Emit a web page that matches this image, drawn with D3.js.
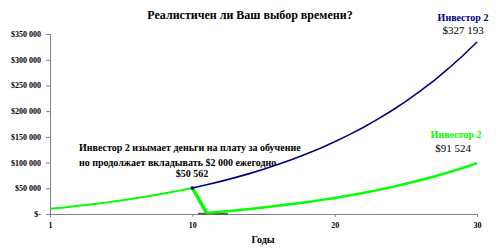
<!DOCTYPE html>
<html>
<head>
<meta charset="utf-8">
<script src="https://cdn.jsdelivr.net/npm/d3@7"></script>
<style>
  html, body { margin: 0; padding: 0; background: #fff; }
  svg { display: block; }
  svg text { font-family: "Liberation Serif", "Times New Roman", "DejaVu Serif", serif; }
</style>
</head>
<body>
<svg id="chart" width="500" height="248"></svg>
<script>
// ---- data ----
const yearsBefore = [0, 1, 2, 3, 4, 5, 6, 7, 8, 9, 10];
const investor2Before = [10000, 12800, 15824, 19090, 22617, 26427, 30541, 34984, 39783, 44965, 50562];

const yearsContinue = [10, 11, 12, 13, 14, 15, 16, 17, 18, 19, 20, 21, 22, 23, 24, 25, 26, 27, 28, 29, 30];
const investor2Continue = [50562, 56767, 63468, 70705, 78521, 86963, 96080, 105926, 116560, 128045, 140449,
  153845, 168313, 183938, 200813, 219038, 238721, 259979, 282937, 307732, 334511];

const yearsDrop = [10, 11];
const investor2Drop = [50562, 2160];

const yearsWithdraw = [11, 12, 13, 14, 15, 16, 17, 18, 19, 20, 21, 22, 23, 24, 25, 26, 27, 28, 29, 30];
const investor2Withdraw = [2160, 4493, 7012, 9733, 12672, 15846, 19273, 22975, 26973, 31291,
  35954, 40990, 46429, 52303, 58647, 65499, 72899, 80891, 89522, 98844];

const yearsBase = [10.4, 12.5];
const baseValues = [600, 600];

const xTickValues = [0, 10, 20, 30];
const xTickLabels = ["1", "10", "20", "30"];
const yTickValues = [0, 50000, 100000, 150000, 200000, 250000, 300000, 350000];

const title = "Реалистичен ли Ваш выбор времени?";
const xTitle = "Годы";
const annotationLines = ["Инвестор 2 изымает деньги на плату за обучение", "но продолжает вкладывать $2 000 ежегодно"];
const annotationValue = "$50 562";
const labelTop = ["Инвестор 2", "$327 193"];
const labelBottom = ["Инвестор 2", "$91 524"];

// ---- chart ----
const svg = d3.select("#chart");

const x = d3.scaleLinear().domain([0, 30]).range([50, 477]);
const y = d3.scaleLinear().domain([0, 350000]).range([214, 34]);

const fmt = v => v === 0 ? "$-" : "$" + d3.format(",")(v).replace(/,/g, " ");

// y axis
const yAxis = svg.append("g").attr("transform", "translate(50,0)")
  .call(d3.axisLeft(y).tickValues(yTickValues).tickFormat(fmt).tickSize(4).tickPadding(5));
yAxis.attr("font-family", null);
yAxis.select(".domain").attr("stroke", "#808080");
yAxis.selectAll(".tick line").attr("stroke", "#808080");
yAxis.selectAll(".tick text").attr("font-size", 8).attr("font-weight", "bold").attr("fill", "#000");

// x axis
const xAxis = svg.append("g").attr("transform", "translate(0,214)")
  .call(d3.axisBottom(x).tickValues(xTickValues).tickFormat((d, i) => xTickLabels[i]).tickSize(3).tickSizeOuter(0).tickPadding(5));
xAxis.attr("font-family", null);
xAxis.select(".domain").attr("stroke", "#808080");
xAxis.selectAll(".tick line").attr("stroke", "#808080");
xAxis.selectAll(".tick text").attr("font-size", 8).attr("font-weight", "bold").attr("fill", "#000");

const line = d3.line().x(d => x(d[0])).y(d => y(d[1]));
const zip = (a, b) => a.map((v, i) => [v, b[i]]);

svg.append("path").datum(zip(yearsBase, baseValues)).attr("d", line)
  .attr("fill", "none").attr("stroke", "#555555").attr("stroke-width", 1.8);

svg.append("path").datum(zip(yearsBefore, investor2Before)).attr("d", line)
  .attr("fill", "none").attr("stroke", "#00ff00").attr("stroke-width", 2);

svg.append("path").datum(zip(yearsContinue, investor2Continue)).attr("d", line)
  .attr("fill", "none").attr("stroke", "#000080").attr("stroke-width", 1.6);

svg.append("path").datum(zip(yearsWithdraw, investor2Withdraw)).attr("d", line)
  .attr("fill", "none").attr("stroke", "#00ff00").attr("stroke-width", 2.5);

svg.append("path").datum(zip(yearsDrop, investor2Drop)).attr("d", line)
  .attr("fill", "none").attr("stroke", "#00ff00").attr("stroke-width", 3.5);

svg.append("circle").attr("cx", x(yearsBefore[10])).attr("cy", y(investor2Before[10])).attr("r", 1.8).attr("fill", "#000060");

// title
svg.append("text").attr("x", 250).attr("y", 19).attr("text-anchor", "middle")
  .attr("font-size", 12).attr("font-weight", "bold").text(title);

// x title
svg.append("text").attr("x", 263).attr("y", 243).attr("text-anchor", "middle")
  .attr("font-size", 10).attr("font-weight", "bold").text(xTitle);

// annotation
annotationLines.forEach((t, i) => {
  svg.append("text").attr("x", 79).attr("y", 151 + i * 15)
    .attr("font-size", 10).attr("font-weight", "bold").text(t);
});
svg.append("text").attr("x", 192).attr("y", 177).attr("text-anchor", "middle")
  .attr("font-size", 10).attr("font-weight", "bold").text(annotationValue);

// end labels
svg.append("text").attr("x", 463).attr("y", 21).attr("text-anchor", "middle")
  .attr("font-size", 10).attr("font-weight", "bold").attr("fill", "#000080").text(labelTop[0]);
svg.append("text").attr("x", 463).attr("y", 34).attr("text-anchor", "middle")
  .attr("font-size", 11).text(labelTop[1]);
svg.append("text").attr("x", 456).attr("y", 138).attr("text-anchor", "middle")
  .attr("font-size", 10).attr("font-weight", "bold").attr("fill", "#00ff00").text(labelBottom[0]);
svg.append("text").attr("x", 453).attr("y", 152).attr("text-anchor", "middle")
  .attr("font-size", 11).text(labelBottom[1]);
</script>
</body>
</html>
